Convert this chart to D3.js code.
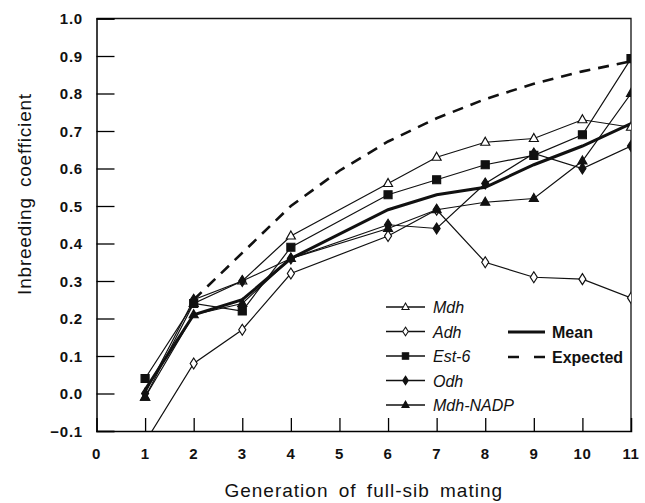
<!DOCTYPE html>
<html>
<head>
<meta charset="utf-8">
<script src="https://cdn.jsdelivr.net/npm/d3@7"></script>
<style>
body { margin: 0; background: #fff; }
text { font-family: "Liberation Sans", Arial, sans-serif; fill: #111; }
</style>
</head>
<body>
<div id="chart-area"></div>
<script>
// generations with observations (no sample at 5)
var gens = [1, 2, 3, 4, 6, 7, 8, 9, 10, 11]
var mdh     = [-0.01, 0.24, 0.30, 0.42, 0.56, 0.63, 0.67, 0.68, 0.73, 0.71]
var adh     = [-0.13, 0.08, 0.17, 0.32, 0.42, 0.49, 0.35, 0.31, 0.305, 0.255]
var est6    = [0.04, 0.24, 0.22, 0.39, 0.53, 0.57, 0.61, 0.635, 0.69, 0.893]
var odh     = [0.00, 0.25, 0.30, 0.36, 0.45, 0.44, 0.56, 0.64, 0.60, 0.66]
var mdhNadp = [-0.01, 0.21, 0.24, 0.36, 0.44, 0.49, 0.51, 0.52, 0.62, 0.80]
var mean    = [0.01, 0.21, 0.25, 0.36, 0.49, 0.53, 0.55, 0.61, 0.66, 0.72]

var expGens = [2, 3, 4, 5, 6, 7, 8, 9, 10, 11]
var expected = [0.25, 0.375, 0.50, 0.594, 0.672, 0.734, 0.785, 0.826, 0.859, 0.886]

var xTicks = [0, 1, 2, 3, 4, 5, 6, 7, 8, 9, 10, 11]
var yTicks = [-0.1, 0, 0.1, 0.2, 0.3, 0.4, 0.5, 0.6, 0.7, 0.8, 0.9, 1.0]

var width = 645
var height = 503

var svg = d3.select("#chart-area").append("svg")
.attr("width", width)
.attr("height", height)

var x = d3.scaleLinear()
.domain([0, 11])
.range([96.5, 631])

var y = d3.scaleLinear()
.domain([-0.1, 1.0])
.range([431, 18.5])

svg.append("clipPath").attr("id", "clip")
.append("rect")
.attr("x", x(0)).attr("y", y(1.0))
.attr("width", x(11) - x(0)).attr("height", y(-0.1) - y(1.0))

// frame: top and right edges
svg.append("path")
.attr("d", "M" + x(0) + "," + y(1.0) + "H" + x(11) + "V" + y(-0.1))
.attr("fill", "none")
.attr("stroke", "#111")
.attr("stroke-width", 1.3)

// axes with inward ticks
var yAxisCall = d3.axisRight(y)
.tickValues(yTicks)
.tickSize(18)
.tickFormat("")

var yAxisGroup = svg.append("g")
.attr("transform", "translate(" + x(0) + ",0)")
.call(yAxisCall)
yAxisGroup.select(".domain").attr("stroke-width", 1.5)
yAxisGroup.selectAll(".tick line").attr("stroke-width", 1.3)

var xAxisCall = d3.axisTop(x)
.tickValues(xTicks.filter(d => d > 0 && d < 11))
.tickSize(13)
.tickFormat("")

var xAxisGroup = svg.append("g")
.attr("transform", "translate(0," + y(-0.1) + ")")
.call(xAxisCall)
xAxisGroup.select(".domain").attr("stroke-width", 1.5)
xAxisGroup.selectAll(".tick line").attr("stroke-width", 1.3)

// tick labels
svg.selectAll(".ylab").data(yTicks).enter().append("text")
.attr("class", "ylab")
.attr("x", 83)
.attr("y", d => y(d) + 5.5)
.attr("text-anchor", "end")
.attr("font-size", "15px")
.attr("font-weight", "bold")
.attr("letter-spacing", "0.8px")
.text(d => d3.format(".1f")(d))

svg.selectAll(".xlab").data(xTicks).enter().append("text")
.attr("class", "xlab")
.attr("x", d => x(d))
.attr("y", 459)
.attr("text-anchor", "middle")
.attr("font-size", "15px")
.attr("font-weight", "bold")
.attr("letter-spacing", "0.5px")
.text(d => d)

// axis titles
svg.append("text")
.attr("x", x(5.5))
.attr("y", 497)
.attr("text-anchor", "middle")
.attr("font-size", "19px")
.attr("letter-spacing", "1px")
.attr("word-spacing", "4px")
.text("Generation of full-sib mating")

svg.append("text")
.attr("transform", "translate(31," + 194 + ") rotate(-90)")
.attr("text-anchor", "middle")
.attr("font-size", "19px")
.attr("letter-spacing", "0.8px")
.attr("word-spacing", "4px")
.text("Inbreeding coefficient")

// series
var series = [
  {name: "Mdh", values: mdh, marker: "triangle", fill: "#fff"},
  {name: "Adh", values: adh, marker: "diamond", fill: "#fff"},
  {name: "Est-6", values: est6, marker: "square", fill: "#111"},
  {name: "Odh", values: odh, marker: "diamond", fill: "#111"},
  {name: "Mdh-NADP", values: mdhNadp, marker: "triangle", fill: "#111"}
]

var line = d3.line()
.x(d => x(d[0]))
.y(d => y(d[1]))

var plot = svg.append("g").attr("clip-path", "url(#clip)")

plot.append("path")
.datum(expGens.map((g, i) => [g, expected[i]]))
.attr("d", line)
.attr("fill", "none")
.attr("stroke", "#111")
.attr("stroke-width", 2.6)
.attr("stroke-dasharray", "11,8")

series.forEach(s => {
  plot.append("path")
  .datum(gens.map((g, i) => [g, s.values[i]]))
  .attr("d", line)
  .attr("fill", "none")
  .attr("stroke", "#111")
  .attr("stroke-width", 1.2)
})

plot.append("path")
.datum(gens.map((g, i) => [g, mean[i]]))
.attr("d", line)
.attr("fill", "none")
.attr("stroke", "#111")
.attr("stroke-width", 3)

function markerPath(type) {
  if (type == "triangle") return "M0,-5L4.5,3L-4.5,3Z"
  if (type == "diamond") return "M0,-5.5L3.5,0L0,5.5L-3.5,0Z"
  return "M-4,-4H4V4H-4Z"
}

series.forEach(s => {
  plot.selectAll(null)
  .data(gens.map((g, i) => [g, s.values[i]]))
  .enter().append("path")
  .attr("transform", d => "translate(" + x(d[0]) + "," + y(d[1]) + ")")
  .attr("d", markerPath(s.marker))
  .attr("fill", s.fill)
  .attr("stroke", "#111")
  .attr("stroke-width", 1.2)
})

// legend
var legend = svg.append("g")
.attr("transform", "translate(386,307)")

series.forEach((s, i) => {
  var row = legend.append("g")
  .attr("transform", "translate(0," + (i * 24.5) + ")")

  row.append("line")
  .attr("x1", 0).attr("x2", 39)
  .attr("stroke", "#111")
  .attr("stroke-width", 1.4)

  row.append("path")
  .attr("transform", "translate(19.5,0) scale(0.8)")
  .attr("d", markerPath(s.marker))
  .attr("fill", s.fill)
  .attr("stroke", "#111")
  .attr("stroke-width", 1.3)

  row.append("text")
  .attr("x", 47)
  .attr("y", 6)
  .attr("font-size", "16px")
  .attr("font-style", "italic")
  .text(s.name)
})

var legend2 = svg.append("g")
.attr("transform", "translate(508,332)")

legend2.append("line")
.attr("x1", 0).attr("x2", 37)
.attr("stroke", "#111")
.attr("stroke-width", 3)

legend2.append("text")
.attr("x", 44).attr("y", 6)
.attr("font-size", "16px")
.attr("font-weight", "bold")
.text("Mean")

legend2.append("line")
.attr("x1", 0).attr("x2", 37)
.attr("y1", 25).attr("y2", 25)
.attr("stroke", "#111")
.attr("stroke-width", 2.6)
.attr("stroke-dasharray", "11,15")

legend2.append("text")
.attr("x", 44).attr("y", 31)
.attr("font-size", "16px")
.attr("font-weight", "bold")
.text("Expected")
</script>
</body>
</html>
